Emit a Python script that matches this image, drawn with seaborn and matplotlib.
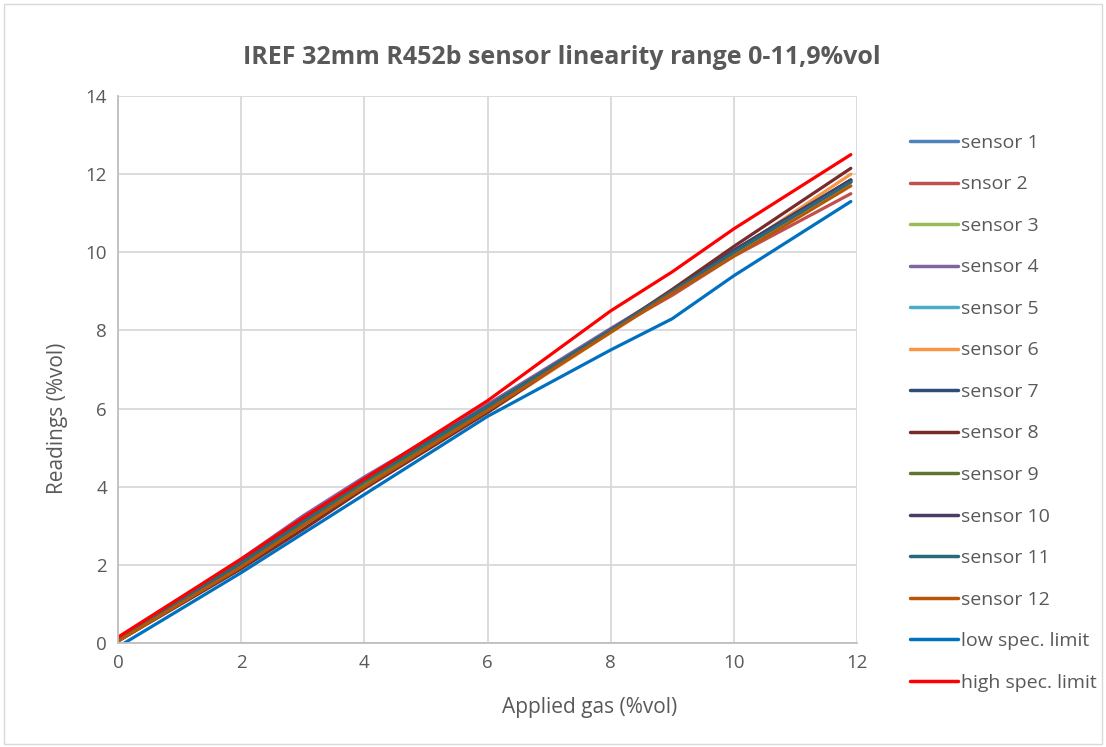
import pandas as pd
import numpy as np
import seaborn as sns
import matplotlib.pyplot as plt

# Applied gas concentration (%vol)
applied = [0, 2, 3, 4, 6, 8, 9, 10, 11.9]

sensor_1 = [0.10, 2.10, 3.20, 4.20, 6.10, 8.00, 9.00, 10.00, 11.80]
sensor_2 = [0.10, 2.10, 3.20, 4.20, 6.10, 8.00, 8.90, 9.90, 11.50]
sensor_3 = [0.05, 2.00, 3.10, 4.10, 6.00, 8.00, 9.00, 10.00, 11.80]
sensor_4 = [0.10, 2.15, 3.25, 4.25, 6.10, 8.05, 9.00, 10.00, 11.85]
sensor_5 = [0.05, 2.00, 3.10, 4.10, 6.00, 8.00, 9.00, 10.00, 11.80]
sensor_6 = [0.05, 1.95, 3.00, 4.00, 5.90, 7.95, 9.00, 10.00, 12.00]
sensor_7 = [0.10, 2.05, 3.10, 4.15, 6.05, 8.00, 9.00, 10.05, 11.85]
sensor_8 = [0.05, 1.90, 2.90, 3.95, 5.90, 8.00, 9.05, 10.15, 12.15]
sensor_9 = [0.05, 2.00, 3.05, 4.10, 6.00, 8.00, 9.00, 10.00, 11.80]
sensor_10 = [0.10, 2.05, 3.15, 4.20, 6.05, 8.00, 9.00, 10.05, 11.85]
sensor_11 = [0.10, 2.05, 3.10, 4.15, 6.05, 8.00, 9.00, 10.00, 11.80]
sensor_12 = [0.05, 1.95, 3.00, 4.00, 5.95, 7.95, 8.95, 9.90, 11.70]
low_limit = [-0.10, 1.80, 2.80, 3.80, 5.80, 7.50, 8.30, 9.40, 11.30]
high_limit = [0.15, 2.15, 3.20, 4.20, 6.20, 8.50, 9.50, 10.60, 12.50]

series_names = ['sensor 1', 'snsor 2', 'sensor 3', 'sensor 4', 'sensor 5', 'sensor 6',
                'sensor 7', 'sensor 8', 'sensor 9', 'sensor 10', 'sensor 11', 'sensor 12',
                'low spec. limit', 'high spec. limit']
series_values = [sensor_1, sensor_2, sensor_3, sensor_4, sensor_5, sensor_6, sensor_7,
                 sensor_8, sensor_9, sensor_10, sensor_11, sensor_12, low_limit, high_limit]
colors = ['#4F81BD', '#C0504D', '#9BBB59', '#8064A2', '#4BACC6', '#F79646', '#2C4D75',
          '#772C2A', '#5F7530', '#4D3B62', '#276A7C', '#B65708', '#0070C0', '#FF0000']

# long format for seaborn
rows = []
for name, vals in zip(series_names, series_values):
    for x, y in zip(applied, vals):
        rows.append({'applied': x, 'reading': y, 'series': name})
df = pd.DataFrame(rows)

sns.set_style('white')
plt.rcParams['font.family'] = ['Open Sans', 'DejaVu Sans']
grey = '#595959'
W, H = 1106, 747

fig = plt.figure(figsize=(W / 100, H / 100), dpi=100)
ax = fig.add_axes([118 / W, 1 - 643 / H, (857 - 118) / W, (643 - 96) / H])

sns.lineplot(data=df, x='applied', y='reading', hue='series', hue_order=series_names,
             palette=dict(zip(series_names, colors)), linewidth=2.3, sort=False,
             estimator=None, ax=ax, legend=True)

ax.set_xlim(0, 12)
ax.set_ylim(0, 14)
ax.set_xticks(range(0, 13, 2))
ax.set_yticks(range(0, 15, 2))
ax.grid(True, color='#D9D9D9', linewidth=1.3)
ax.set_axisbelow(True)
for s in ['top', 'right']:
    ax.spines[s].set_visible(False)
for s in ['left', 'bottom']:
    ax.spines[s].set_color('#BFBFBF')
    ax.spines[s].set_linewidth(1.3)
ax.tick_params(colors=grey, labelsize=13.5, length=0, pad=8)
ax.set_xlabel('')
ax.set_ylabel('')
fig.text(590 / W, 1 - 708 / H, 'Applied gas (%vol)', color=grey, fontsize=15,
         ha='center', va='center')
fig.text(57 / W, 1 - 418 / H, 'Readings (%vol)', color=grey, fontsize=15,
         ha='center', va='center', rotation=90)

fig.text(562 / W, 1 - 57 / H, 'IREF 32mm R452b sensor linearity range 0-11,9%vol',
         ha='center', va='center', fontsize=18, fontweight='bold', color=grey)

handles, labels = ax.get_legend_handles_labels()
ax.legend_.remove()
leg = fig.legend(handles, labels, loc='upper left', bbox_to_anchor=(902 / W, 1 - 126 / H),
                 frameon=False, fontsize=14, labelspacing=1.21, handlelength=2.5,
                 handletextpad=0.15, borderaxespad=0)
for t in leg.get_texts():
    t.set_color(grey)
for h in leg.legend_handles:
    h.set_linewidth(2.5)

# outer chart border
fig.patches.append(plt.Rectangle((0.004, 0.004), 0.992, 0.99, transform=fig.transFigure,
                                 fill=False, edgecolor='#D9D9D9', linewidth=1))

fig.savefig('out.png', dpi=100)
